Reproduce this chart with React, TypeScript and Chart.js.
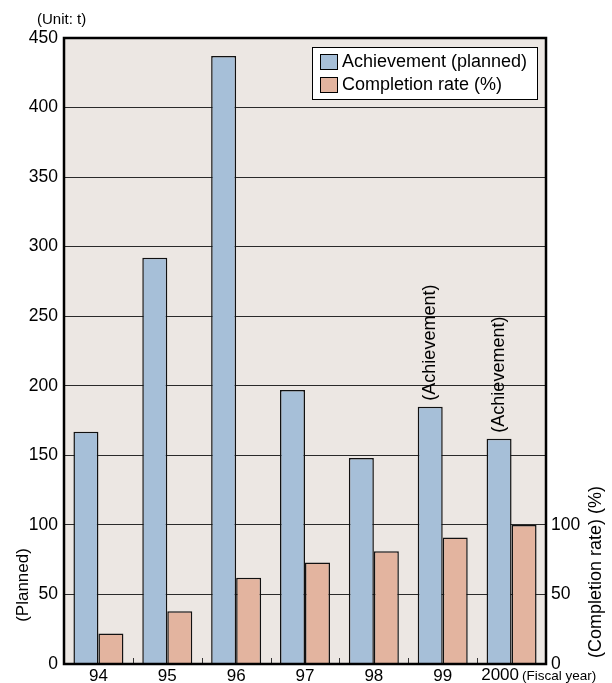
import React, { useEffect, useRef } from "react";
import { Chart, registerables } from "chart.js";

Chart.register(...registerables);

// Fiscal years and values
const years = ["94", "95", "96", "97", "98", "99", "2000"];
const achievement = [167, 292, 437, 197, 148, 185, 162];
const completionRate = [22, 38, 62, 73, 81, 91, 100];
const barNotes = ["", "", "", "", "", "(Achievement)", "(Achievement)"];
const seriesNames = ["Achievement (planned)", "Completion rate (%)"];
const rightTickMax = 100;
const yearUnit = "(Fiscal year)";

const FONT = "'Liberation Sans', Arial, Helvetica, sans-serif";
const BLUE = "#a6bfd8";
const SALMON = "#e3b49f";
const PLOT_BG = "#ece7e3";
const X_FONT_SIZE = 17;

const framePlugin = {
  id: "frame",
  beforeDraw(chart: any) {
    const { ctx, chartArea: a, width, height } = chart;
    ctx.save();
    ctx.fillStyle = "#ffffff";
    ctx.fillRect(0, 0, width, height);
    ctx.fillStyle = PLOT_BG;
    ctx.fillRect(a.left, a.top, a.right - a.left, a.bottom - a.top);
    ctx.restore();
  },
  afterDatasetsDraw(chart: any) {
    const { ctx, chartArea: a, scales } = chart;
    ctx.save();
    // small boundary ticks between fiscal years
    const xs = scales.x;
    ctx.strokeStyle = "#333";
    ctx.lineWidth = 1;
    for (let i = 1; i < years.length; i++) {
      const bx = Math.round((xs.getPixelForValue(i - 1) + xs.getPixelForValue(i)) / 2) + 0.5;
      ctx.beginPath();
      ctx.moveTo(bx, a.bottom);
      ctx.lineTo(bx, a.bottom - 6);
      ctx.stroke();
    }
    // plot frame
    ctx.strokeStyle = "#000";
    ctx.lineWidth = 2.5;
    ctx.strokeRect(a.left, a.top, a.right - a.left, a.bottom - a.top);

    // last year label, pushed left so the unit fits beside it
    const last = years.length - 1;
    const lastX = xs.getPixelForValue(last);
    ctx.fillStyle = "#000";
    ctx.textBaseline = "middle";
    ctx.font = `${X_FONT_SIZE}px ${FONT}`;
    ctx.textAlign = "right";
    const lastW = ctx.measureText(years[last]).width;
    const lastRight = Math.min(lastX + lastW / 2, a.right - 27);
    ctx.fillText(years[last], lastRight, 675);
    ctx.font = `13.5px ${FONT}`;
    ctx.textAlign = "left";
    ctx.fillText(yearUnit, lastRight + 3, 676);

    // vertical notes above bars
    const meta = chart.getDatasetMeta(0);
    ctx.font = `18px ${FONT}`;
    ctx.textAlign = "left";
    barNotes.forEach((note, i) => {
      if (!note) return;
      const el = meta.data[i];
      ctx.save();
      ctx.translate(el.x, el.y - 6);
      ctx.rotate(-Math.PI / 2);
      ctx.fillText(note, 0, 0);
      ctx.restore();
    });

    // legend box
    const lx = 312, ly = 47, lw = 225, lh = 52;
    ctx.fillStyle = "#fff";
    ctx.fillRect(lx, ly, lw, lh);
    ctx.strokeStyle = "#000";
    ctx.lineWidth = 1;
    ctx.strokeRect(lx + 0.5, ly + 0.5, lw, lh);
    const colors = [BLUE, SALMON];
    seriesNames.forEach((name, i) => {
      const cy = ly + 14 + i * 23;
      ctx.fillStyle = colors[i];
      ctx.fillRect(320, cy - 7, 17, 15);
      ctx.strokeStyle = "#000";
      ctx.strokeRect(320.5, cy - 6.5, 17, 15);
      ctx.fillStyle = "#000";
      ctx.font = `18px ${FONT}`;
      ctx.textAlign = "left";
      ctx.textBaseline = "middle";
      ctx.fillText(name, 342, cy + 1);
    });

    // unit and axis captions
    ctx.font = `15px ${FONT}`;
    ctx.textAlign = "left";
    ctx.fillText("(Unit: t)", 37, 20);

    ctx.font = `17px ${FONT}`;
    ctx.textAlign = "center";
    ctx.save();
    ctx.translate(23, 585);
    ctx.rotate(-Math.PI / 2);
    ctx.fillText("(Planned)", 0, 0);
    ctx.restore();
    ctx.font = `18px ${FONT}`;
    ctx.save();
    ctx.translate(596, 572);
    ctx.rotate(-Math.PI / 2);
    ctx.fillText("(Completion rate) (%)", 0, 0);
    ctx.restore();
    ctx.restore();
  },
};

export default function App() {
  const ref = useRef<HTMLCanvasElement | null>(null);

  useEffect(() => {
    if (!ref.current) return;
    const yFont = { family: FONT, size: 17.5 };
    const xFont = { family: FONT, size: X_FONT_SIZE };
    const chart = new Chart(ref.current, {
      type: "bar",
      data: {
        labels: years,
        datasets: [
          {
            label: seriesNames[0],
            data: achievement,
            backgroundColor: BLUE,
            borderColor: "#111",
            borderWidth: 1.5,
            yAxisID: "y",
            barPercentage: 1,
            categoryPercentage: 0.726,
          },
          {
            label: seriesNames[1],
            data: completionRate,
            backgroundColor: SALMON,
            borderColor: "#111",
            borderWidth: 1.5,
            yAxisID: "y1",
            barPercentage: 1,
            categoryPercentage: 0.726,
          },
        ],
      },
      options: {
        responsive: false,
        animation: false,
        devicePixelRatio: 1,
        layout: { padding: { top: 38, left: 0, right: 0, bottom: 0 } },
        plugins: { legend: { display: false }, tooltip: { enabled: false } },
        scales: {
          x: {
            offset: true,
            grid: { display: false, drawTicks: false },
            border: { display: false },
            ticks: {
              color: "#000",
              font: xFont,
              padding: 2,
              maxRotation: 0,
              autoSkip: false,
              // the final year is drawn by the frame plugin together with its unit
              callback: (_v: any, i: number) => (i === years.length - 1 ? "" : years[i]),
            },
            afterFit: (s: any) => {
              s.height = 19;
            },
          },
          y: {
            position: "left",
            min: 0,
            max: 450,
            ticks: { stepSize: 50, color: "#000", font: yFont, padding: 6 },
            grid: { color: "#2a2a2a", lineWidth: 1, drawTicks: false },
            border: { display: false },
            afterFit: (s: any) => {
              s.width = 64;
            },
          },
          y1: {
            position: "right",
            min: 0,
            max: 450,
            ticks: {
              stepSize: 50,
              color: "#000",
              font: yFont,
              padding: 5,
              callback: (v: any) => (Number(v) <= rightTickMax ? String(v) : ""),
            },
            grid: { drawOnChartArea: false, drawTicks: false },
            border: { display: false },
            afterFit: (s: any) => {
              s.width = 66;
            },
          },
        },
      },
      plugins: [framePlugin],
    });
    return () => chart.destroy();
  }, []);

  return (
    <div style={{ position: "absolute", left: 0, top: 0, width: 612, height: 683 }}>
      <canvas ref={ref} width={612} height={683} style={{ display: "block" }} />
    </div>
  );
}
